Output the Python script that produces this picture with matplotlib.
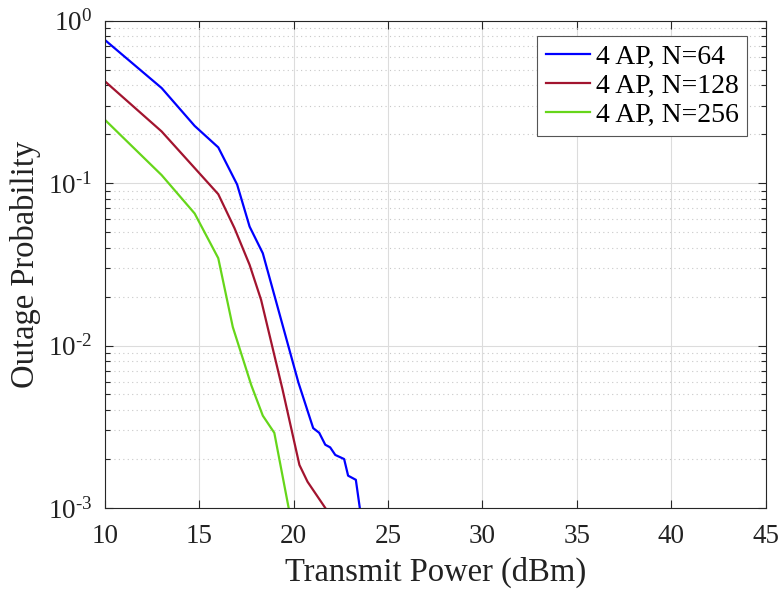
import matplotlib
matplotlib.use("Agg")
import matplotlib.pyplot as plt
from matplotlib.ticker import LogLocator, NullFormatter, FixedLocator, FixedFormatter

plt.rcParams['font.family'] = ['Liberation Serif', 'DejaVu Serif']
plt.rcParams['mathtext.fontset'] = 'custom'
plt.rcParams['mathtext.rm'] = 'Liberation Serif'
plt.rcParams['mathtext.it'] = 'Liberation Serif:italic'

# Outage probability vs. transmit power (dBm)
p_n64 = [10, 13, 14.75, 16, 17, 17.66, 18.36, 20.25, 21.03, 21.35, 21.67, 21.93,
         22.2, 22.67, 22.88, 23.29, 23.5, 23.7]
out_n64 = [0.76, 0.385, 0.225, 0.166, 0.098, 0.054, 0.037, 0.0059, 0.0031, 0.0029,
           0.00245, 0.00236, 0.00212, 0.0020, 0.00158, 0.00149, 0.00100, 0.00075]

p_n128 = [10, 13, 16, 16.86, 17.66, 18.27, 19.4, 20.3, 20.73, 21.67, 22.2]
out_n128 = [0.423, 0.208, 0.0855, 0.0528, 0.0314, 0.0191, 0.0054, 0.00184, 0.00145,
            0.00100, 0.00082]

p_n256 = [10, 13, 14.75, 16, 16.77, 17.75, 18.36, 18.97, 19.73, 20.0]
out_n256 = [0.245, 0.112, 0.065, 0.0345, 0.013, 0.0057, 0.0037, 0.0029, 0.00100, 0.0007]

labels = ['4 AP, N=64', '4 AP, N=128', '4 AP, N=256']
colors = ['#0000ff', '#a2142f', '#66d61a']

x_ticks = [10, 15, 20, 25, 30, 35, 40, 45]
y_ticks = [1e-3, 1e-2, 1e-1, 1e0]
y_ticklabels = [r'$\mathregular{10^{\text{-}3}}$', r'$\mathregular{10^{\text{-}2}}$',
                r'$\mathregular{10^{\text{-}1}}$', r'$\mathregular{10^{0}}$']

fig = plt.figure(figsize=(7.78, 5.92), dpi=100)
ax = fig.add_axes([0.135, 0.142, 0.849, 0.823])

for x, y, lab, c in zip([p_n64, p_n128, p_n256], [out_n64, out_n128, out_n256], labels, colors):
    ax.plot(x, y, color=c, lw=1.6, label=lab)

ax.set_yscale('log')
ax.set_xlim(10, 45)
ax.set_ylim(1e-3, 1)
ax.xaxis.set_major_locator(FixedLocator(x_ticks))
ax.yaxis.set_major_locator(FixedLocator(y_ticks))
ax.yaxis.set_major_formatter(FixedFormatter(y_ticklabels))
ax.yaxis.set_minor_locator(LogLocator(base=10, subs=range(2, 10), numticks=10))
ax.yaxis.set_minor_formatter(NullFormatter())

ax.grid(True, which='major', color='#dcdcdc', lw=0.8, ls='-')
ax.grid(True, which='minor', axis='y', color='#c8c8c8', lw=0.8, ls=(0, (1, 3)))
ax.set_axisbelow(True)

ax.tick_params(axis='both', which='both', direction='in', top=True, right=True,
               colors='#262626', labelcolor='#222222', labelsize=19.5)
ax.tick_params(which='major', length=6, width=0.8)
ax.tick_params(which='minor', length=3.5, width=0.8)
ax.tick_params(axis='x', pad=11.5)
ax.tick_params(axis='y', pad=9)
for s in ax.spines.values():
    s.set_color('#262626')
    s.set_linewidth(0.8)

ax.set_xlabel('Transmit Power (dBm)', fontsize=23.5, color='#222222', labelpad=6)
ax.set_ylabel('Outage Probability', fontsize=23.5, color='#222222', labelpad=5)

leg = ax.legend(loc='upper right', bbox_to_anchor=(747 / 778, 1 - 36 / 592),
                bbox_transform=fig.transFigure, borderaxespad=0,
                fontsize=20, frameon=True, fancybox=False,
                edgecolor='#555555', framealpha=1, borderpad=0.3, labelspacing=0.13,
                handlelength=1.6, handletextpad=0.2)
leg.get_frame().set_linewidth(0.8)

fig.savefig('out.png', dpi=100)
